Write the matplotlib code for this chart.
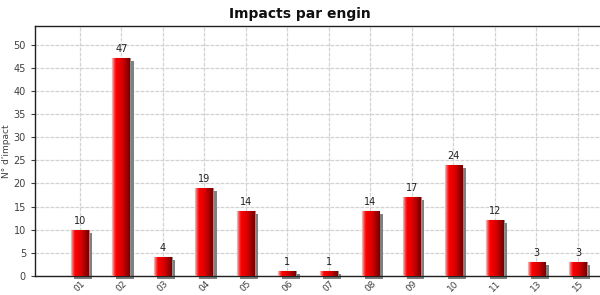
import matplotlib.pyplot as plt
import matplotlib.transforms as mtrans
from matplotlib.colors import LinearSegmentedColormap
import numpy as np

engins = ['01', '02', '03', '04', '05', '06', '07', '08', '09', '10', '11', '13', '15']
impacts = [10, 47, 4, 19, 14, 1, 1, 14, 17, 24, 12, 3, 3]

fig = plt.figure(figsize=(6, 2.95), dpi=100)
ax = fig.add_axes([35 / 600, 19 / 295, 565 / 600, 250 / 295])

x = np.arange(len(engins))
w = 0.43

# shadow bars, shifted a few pixels right and down
shift = mtrans.ScaledTranslation(3.5 / 100, -3 / 100, fig.dpi_scale_trans)
ax.bar(x, impacts, width=w, color='#808080', transform=ax.transData + shift,
       zorder=2, clip_on=False)

bars = ax.bar(x, impacts, width=w, color='#dd0000', edgecolor='#909090',
              linewidth=0.8, zorder=3)

cmap = LinearSegmentedColormap.from_list('rouge', [
    (0.0, '#ffc0c0'), (0.1, '#ff5050'), (0.22, '#ff0000'),
    (0.6, '#d00000'), (1.0, '#700000')])
grad = np.linspace(0, 1, 64).reshape(1, -1)
for b in bars:
    x0, h = b.get_x(), b.get_height()
    im = ax.imshow(grad, cmap=cmap, aspect='auto', zorder=3,
                   extent=(x0, x0 + b.get_width(), 0, h))
    im.set_clip_path(b)

for xi, v in zip(x, impacts):
    ax.text(xi, v + 0.9, str(v), ha='center', va='bottom', fontsize=7,
            color='#202020', zorder=4)

ax.set_xlim(-1.08, 12.53)
ax.set_ylim(0, 54)
ax.set_xticks(x)
ax.set_xticklabels(engins, rotation=45, fontsize=6.5, color='#404040',
                   ha='center', rotation_mode='default')
ax.set_yticks(range(0, 51, 5))
ax.tick_params(axis='y', labelsize=7, colors='#404040', length=3)
ax.tick_params(axis='x', length=0, pad=2)
ax.grid(True, color='#d2d2d2', linestyle=(0, (3, 1)), linewidth=0.9, zorder=0)
ax.set_axisbelow(True)

for s in ['left', 'top', 'bottom']:
    ax.spines[s].set_color('#202020')
    ax.spines[s].set_linewidth(1)
ax.spines['right'].set_visible(False)

ax.set_ylabel("N° d'impact", fontsize=6.5, color='#404040', labelpad=2)
fig.text(0.5, 0.952, 'Impacts par engin', ha='center', va='center',
         fontsize=10, fontweight='bold', color='#101010')

fig.savefig('out.png', dpi=100)
